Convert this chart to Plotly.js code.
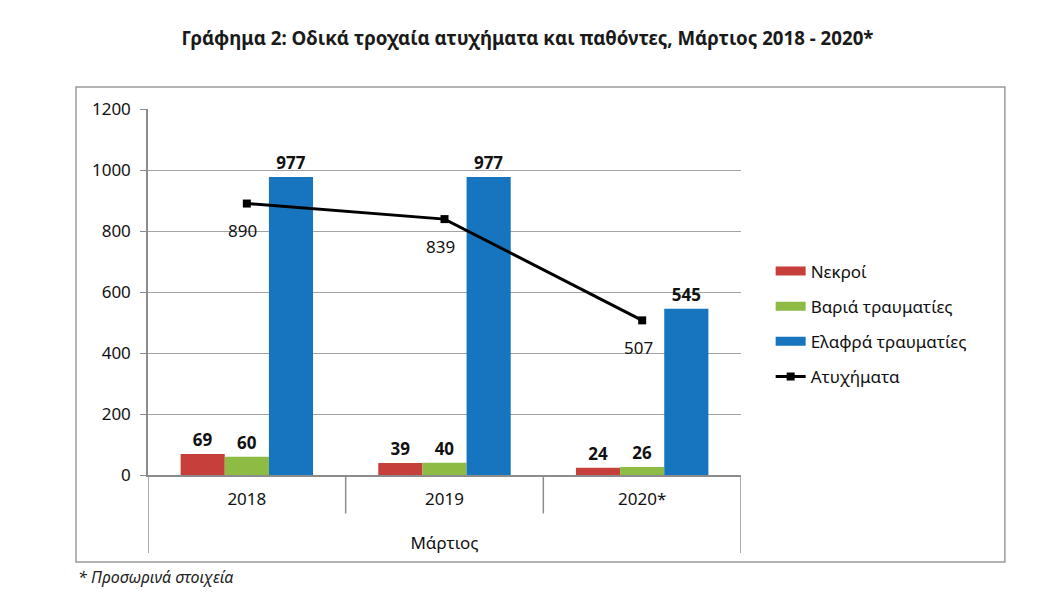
<!DOCTYPE html>
<html>
<head>
<meta charset="utf-8">
<script src="https://cdn.plot.ly/plotly-3.0.1.min.js"></script>
<style>
body { margin: 0; background: #fff; }
#chart { width: 1055px; height: 604px; }
</style>
</head>
<body>
<div id="chart"></div>
<script>
// Chart values.
var years = ['2018', '2019', '2020*'];
var deaths = [69, 39, 24];
var seriousInjuries = [60, 40, 26];
var slightInjuries = [977, 977, 545];
var accidents = [890, 839, 507];

var fontFamily = 'Noto Sans, DejaVu Sans, sans-serif';
var colors = {deaths: '#c63f3b', serious: '#8dbb43', slight: '#1775bf', accidents: '#000'};

function barTrace(name, values, color) {
return {
type: 'bar',
name: name,
x: years,
y: values,
marker: {color: color},
text: values,
texttemplate: '<b>%{text}</b>',
textposition: 'outside',
cliponaxis: false,
textfont: {size: 17, color: '#111', family: fontFamily},
showlegend: false,
hoverinfo: 'y+name'
};
}

// Legend-only entries, so the bar keys are wide strips as in the original.
function legendKey(name, color, width, rank) {
return {
type: 'scatter', mode: 'lines', name: name, legendgroup: name, legendrank: rank,
x: [years[0]], y: [null],
line: {color: color, width: width},
hoverinfo: 'skip'
};
}

var data = [
barTrace('Νεκροί', deaths, colors.deaths),
barTrace('Βαριά τραυματίες', seriousInjuries, colors.serious),
barTrace('Ελαφρά τραυματίες', slightInjuries, colors.slight),
{
type: 'scatter',
mode: 'lines+markers',
name: 'Ατυχήματα',
legendgroup: 'Ατυχήματα',
legendrank: 4,
x: years,
y: accidents,
line: {color: colors.accidents, width: 3},
marker: {symbol: 'square', size: 8, color: colors.accidents},
cliponaxis: false
},
legendKey('Νεκροί', colors.deaths, 9, 1),
legendKey('Βαριά τραυματίες', colors.serious, 9, 2),
legendKey('Ελαφρά τραυματίες', colors.slight, 9, 3)
];

// Labels of the accident line, placed under each point (x is the category index).
var annotations = years.map(function (year, i) {
return {
xref: 'x', yref: 'y', x: i, y: accidents[i],
text: String(accidents[i]), showarrow: false,
yshift: -27, xshift: -4,
font: {size: 17, color: '#111', family: fontFamily}
};
});
annotations.push({
xref: 'paper', yref: 'paper', x: -0.1214, y: -0.279,
xanchor: 'left', yanchor: 'middle', showarrow: false,
text: '<i>* Προσωρινά στοιχεία</i>',
font: {size: 16, color: '#222', family: fontFamily}
});

// Divider lines of the two-level category axis, placed between categories.
var shapes = [];
[0.5, 1.5].forEach(function (pos) {
shapes.push({type: 'line', xref: 'x', yref: 'paper', x0: pos, x1: pos, y0: 0, y1: -0.105,
line: {color: '#8c8c8c', width: 1.5}});
});
[-0.5, 2.5].forEach(function (pos) {
shapes.push({type: 'line', xref: 'x', yref: 'paper', x0: pos, x1: pos, y0: 0, y1: -0.213,
line: {color: '#8c8c8c', width: 1.5}});
});
// Outer chart border.
shapes.push({type: 'rect', xref: 'paper', yref: 'paper', x0: -0.1214, x1: 1.445, y0: -0.2377, y1: 1.060,
line: {color: '#9a9a9a', width: 1.5}, layer: 'below'});

var layout = {
width: 1055,
height: 604,
margin: {l: 148, r: 314, t: 109, b: 129},
paper_bgcolor: '#fff',
plot_bgcolor: '#fff',
font: {family: fontFamily, size: 17, color: '#111'},
barmode: 'group',
bargap: 0.33,
bargroupgap: 0,
showlegend: true,
legend: {
x: 1.05, y: 0.605, xanchor: 'left', yanchor: 'top',
font: {size: 17, color: '#111'},
tracegroupgap: 10,
traceorder: 'grouped'
},
title: {
text: '<b>Γράφημα 2: Οδικά τροχαία ατυχήματα και παθόντες, Μάρτιος 2018 - 2020*</b>',
font: {size: 18.7, color: '#1a1a1a', family: fontFamily},
x: 0.5, xref: 'container', xanchor: 'center',
y: 0.937, yref: 'container', yanchor: 'middle'
},
xaxis: {
type: 'category',
range: [-0.5, 2.5],
showline: true,
linecolor: '#8c8c8c',
linewidth: 1.5,
ticks: '',
showgrid: false,
tickfont: {size: 17},
ticklabelstandoff: 8,
title: {text: 'Μάρτιος', font: {size: 17}, standoff: 28}
},
yaxis: {
range: [0, 1200],
dtick: 200,
showline: true,
linecolor: '#8c8c8c',
linewidth: 1.5,
ticks: 'outside',
ticklen: 6,
tickcolor: '#8c8c8c',
showgrid: true,
gridcolor: '#a3a3a3',
gridwidth: 1,
zeroline: false,
tickfont: {size: 17},
ticklabelstandoff: 6
},
shapes: shapes,
annotations: annotations
};

Plotly.newPlot('chart', data, layout, {displayModeBar: false, responsive: false});
</script>
</body>
</html>
